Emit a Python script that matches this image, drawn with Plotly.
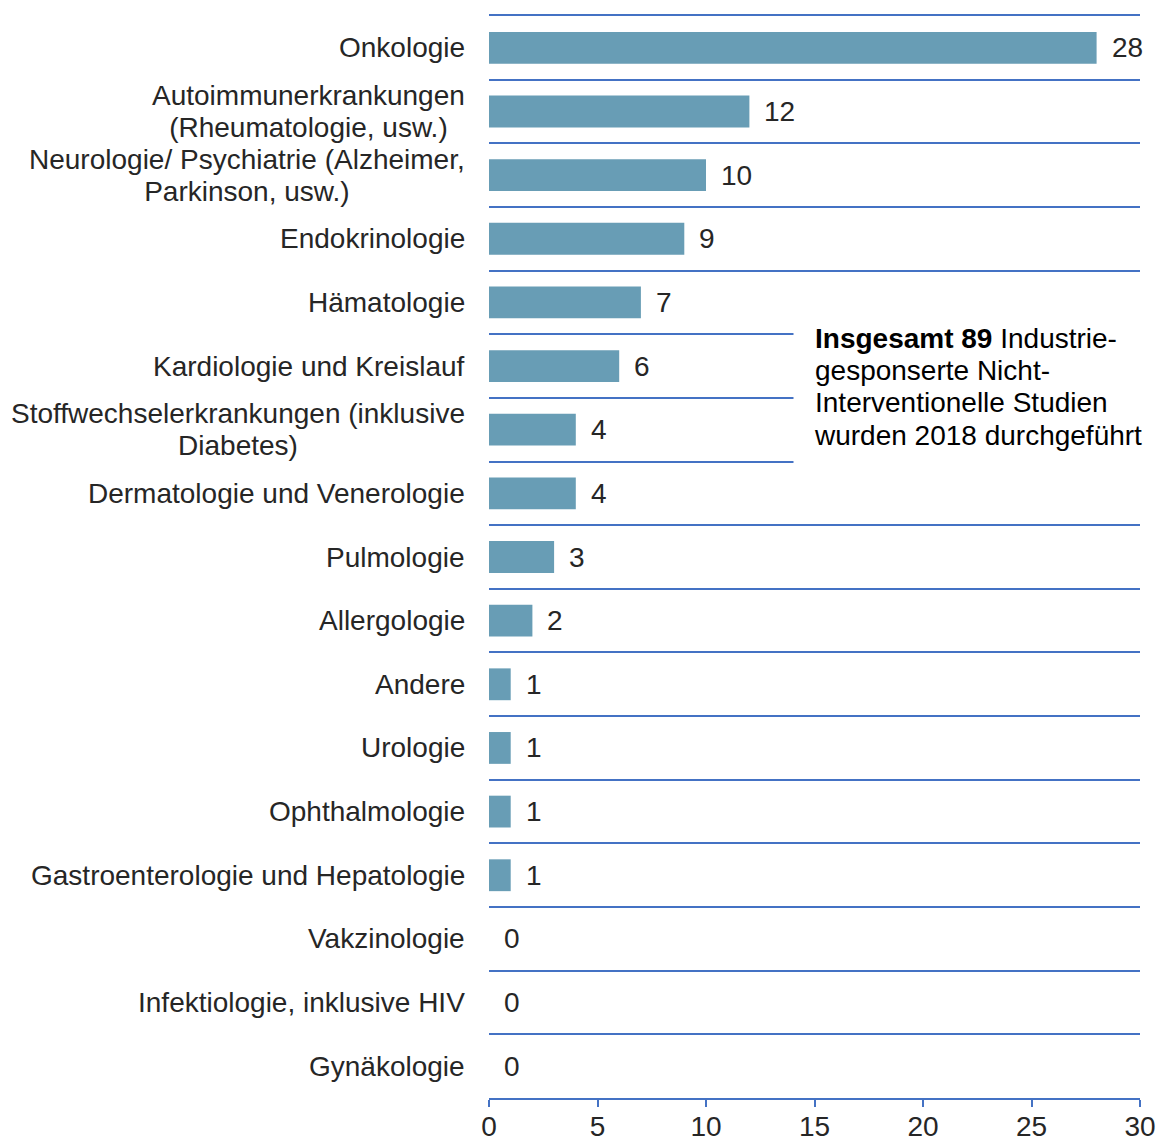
import plotly.graph_objects as go

categories = [
    "Onkologie",
    "Autoimmunerkrankungen<br>(Rheumatologie, usw.)",
    "Neurologie/ Psychiatrie (Alzheimer,<br>Parkinson, usw.)",
    "Endokrinologie",
    "Hämatologie",
    "Kardiologie und Kreislauf",
    "Stoffwechselerkrankungen (inklusive<br>Diabetes)",
    "Dermatologie und Venerologie",
    "Pulmologie",
    "Allergologie",
    "Andere",
    "Urologie",
    "Ophthalmologie",
    "Gastroenterologie und Hepatologie",
    "Vakzinologie",
    "Infektiologie, inklusive HIV",
    "Gynäkologie",
]
values = [28, 12, 10, 9, 7, 6, 4, 4, 3, 2, 1, 1, 1, 1, 0, 0, 0]
x_ticks = [0, 5, 10, 15, 20, 25, 30]
note_lines = ["<b>Insgesamt 89</b> Industrie-", "gesponserte Nicht-",
              "Interventionelle Studien", "wurden 2018 durchgeführt"]

FONT = "Arial, Liberation Sans, sans-serif"
BAR = "#689db5"
LINE = "#4472c4"
TXT = "#262626"
FS = 28          # glyph size
BASE = 24.8      # base size -> line spacing 1.3*BASE ~ 32px


def tight(lines):
    return "<br>".join(f'<span style="font-size:{FS}px">{t}</span>' for t in lines)


fig = go.Figure()
fig.add_trace(go.Bar(
    x=values, y=categories, orientation="h",
    marker=dict(color=BAR, line=dict(width=0)),
    hoverinfo="skip",
))

annotations = []
for c, v in zip(categories, values):
    annotations.append(dict(
        x=0, xref="x", y=c, yref="y", text=tight(c.split("<br>")),
        showarrow=False, xanchor="right", yanchor="middle", align="center",
        xshift=-22, font=dict(family=FONT, size=BASE, color=TXT),
    ))
    annotations.append(dict(
        x=v, xref="x", y=c, yref="y", text=str(v), showarrow=False,
        xanchor="left", yanchor="middle", xshift=13,
        font=dict(family=FONT, size=FS, color=TXT),
    ))

annotations.append(dict(
    x=14.0, xref="x", y=0.657, yref="paper", text=tight(note_lines),
    showarrow=False, xanchor="left", yanchor="middle", align="left",
    bgcolor="white", borderpad=20,
    font=dict(family=FONT, size=BASE, color="#000000"),
))

fig.update_layout(
    width=1158, height=1142, autosize=False,
    margin=dict(l=489, r=18, t=16, b=44, autoexpand=False),
    paper_bgcolor="white", plot_bgcolor="white",
    bargap=0.5, showlegend=False,
    annotations=annotations,
    font=dict(family=FONT, size=FS, color=TXT),
)
fig.update_xaxes(
    range=[0, 30], tickvals=x_ticks, ticktext=[str(t) for t in x_ticks],
    showgrid=False, zeroline=False, automargin=False,
    showline=True, mirror=True, linecolor=LINE, linewidth=1.5,
    ticks="outside", ticklen=7, tickcolor=LINE, tickwidth=1.5,
    ticklabelstandoff=-4,
    tickfont=dict(family=FONT, size=FS, color=TXT),
)
fig.update_yaxes(
    type="category", categoryorder="array", categoryarray=categories,
    autorange="reversed", tickson="boundaries", automargin=False,
    showgrid=True, gridcolor=LINE, gridwidth=1.5,
    showticklabels=False, ticks="", zeroline=False, showline=False,
)

fig.write_html(
    "out.html",
    config={"displayModeBar": False, "responsive": False},
    post_script="document.body.style.margin='0';"
                "document.documentElement.style.overflow='hidden';",
)
